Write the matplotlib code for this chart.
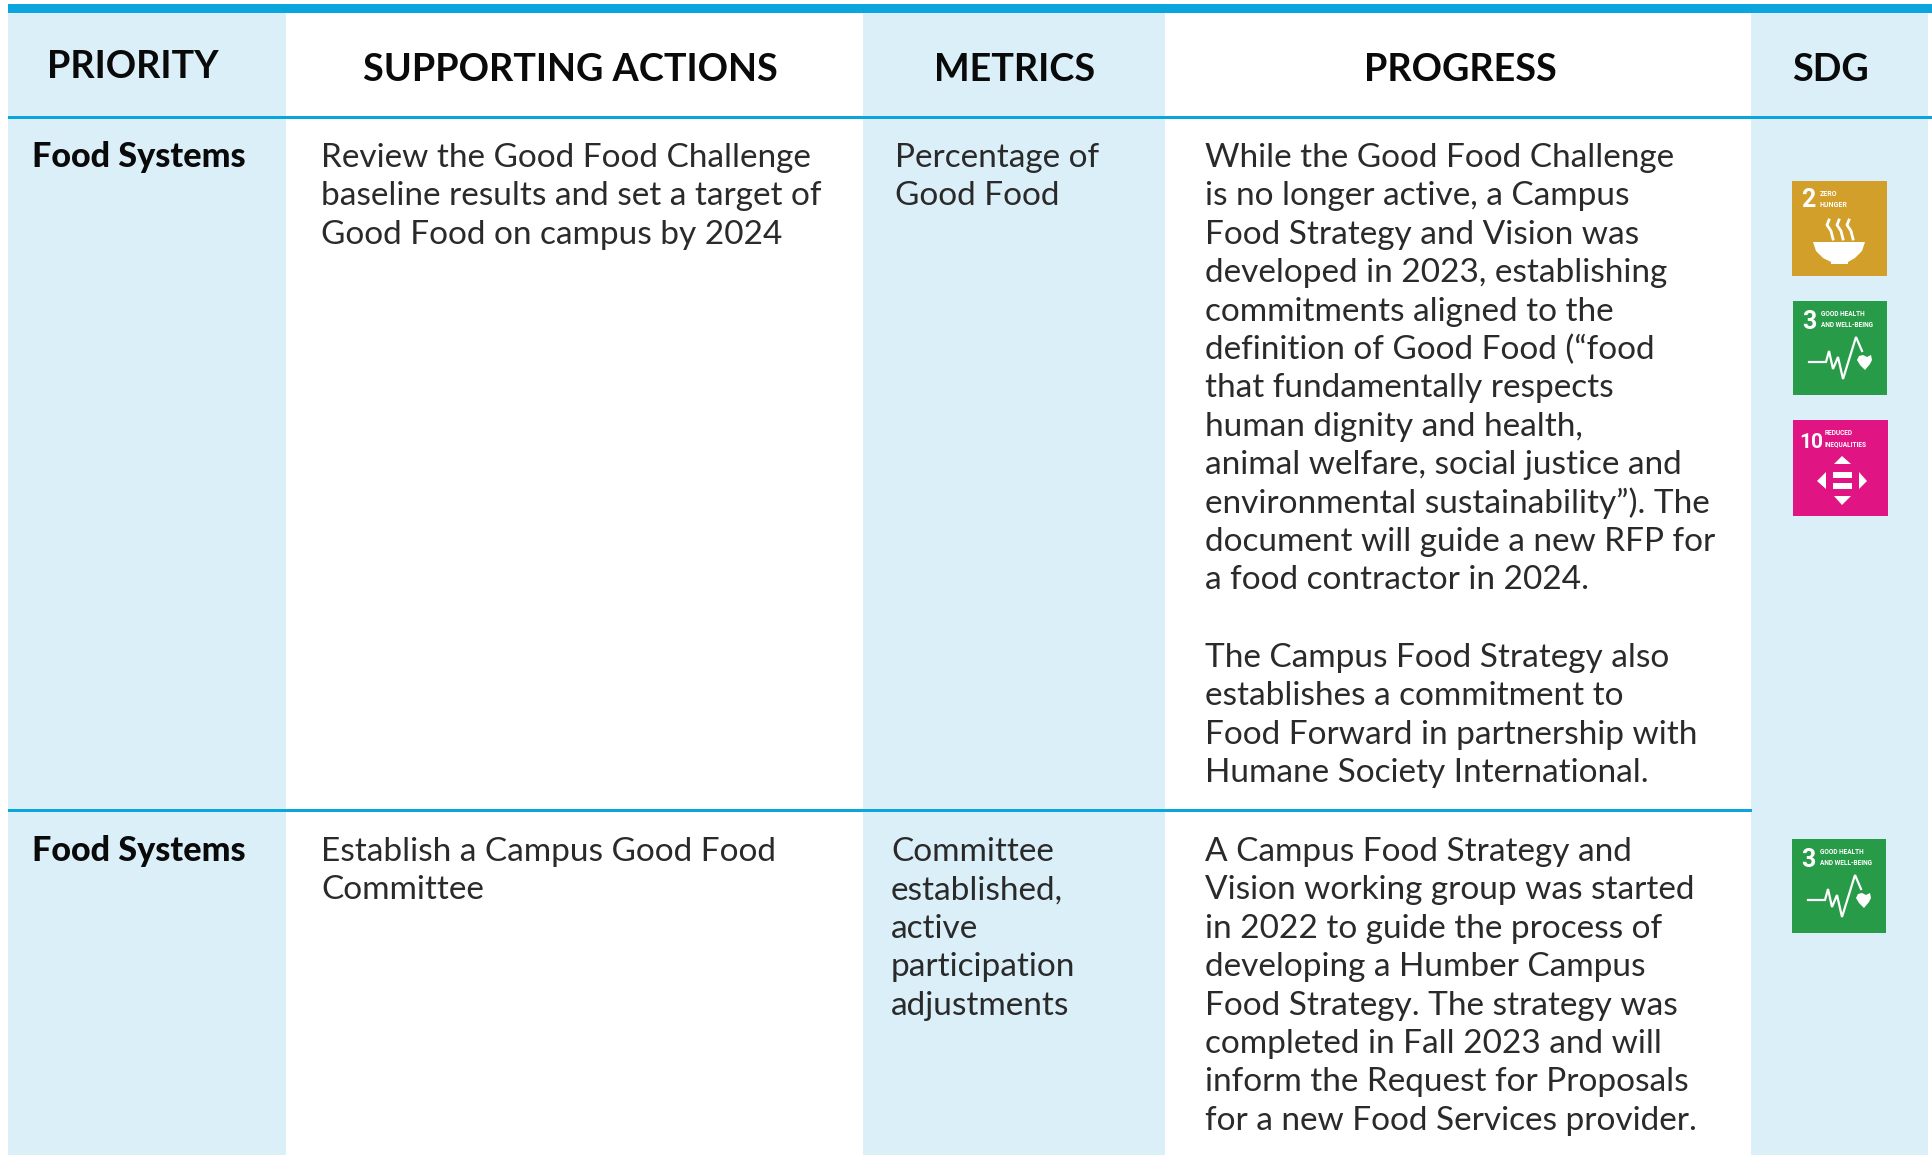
import matplotlib
matplotlib.use('Agg')
import matplotlib.pyplot as plt
from matplotlib.patches import Rectangle, Polygon

# table text
headers = ['PRIORITY', 'SUPPORTING ACTIONS', 'METRICS', 'PROGRESS', 'SDG']
priority = ['Food Systems', 'Food Systems']
actions_1 = ['Review the Good Food Challenge', 'baseline results and set a target of', 'Good Food on campus by 2024']
actions_2 = ['Establish a Campus Good Food', 'Committee']
metrics_1 = ['Percentage of', 'Good Food']
metrics_2 = ['Committee', 'established,', 'active', 'participation', 'adjustments']
progress_1a = ['While the Good Food Challenge', 'is no longer active, a Campus', 'Food Strategy and Vision was',
               'developed in 2023, establishing', 'commitments aligned to the', 'definition of Good Food (“food',
               'that fundamentally respects', 'human dignity and health,', 'animal welfare, social justice and',
               'environmental sustainability”). The', 'document will guide a new RFP for', 'a food contractor in 2024.']
progress_1b = ['The Campus Food Strategy also', 'establishes a commitment to', 'Food Forward in partnership with',
               'Humane Society International.']
progress_2 = ['A Campus Food Strategy and', 'Vision working group was started', 'in 2022 to guide the process of',
              'developing a Humber Campus', 'Food Strategy. The strategy was', 'completed in Fall 2023 and will',
              'inform the Request for Proposals', 'for a new Food Services provider.']

LIGHT = '#dbeff9'
BLUE = '#0ba5de'
FONT = 'Lato'
SIZE = 24
PITCH = 38.4

fig = plt.figure(figsize=(19.33, 11.55), dpi=100)
ax = fig.add_axes([0, 0, 1, 1])
ax.set_xlim(0, 1933)
ax.set_ylim(1155, 0)
ax.axis('off')

# column shading
for x0, x1 in [(8, 286), (863, 1165), (1751, 1928)]:
    ax.add_patch(Rectangle((x0, 4), x1 - x0, 1151, fc=LIGHT, ec='none'))

# rules
ax.add_patch(Rectangle((8, 4), 1925, 9, fc=BLUE, ec='none'))
ax.add_patch(Rectangle((8, 116), 1925, 3, fc=BLUE, ec='none'))
ax.add_patch(Rectangle((8, 808.5), 1744, 3.5, fc=BLUE, ec='none'))


def put_lines(lines, x, y):
    for i, s in enumerate(lines):
        ax.text(x, y + i * PITCH, s, family=FONT, fontsize=SIZE, color='#2a2a2a', va='baseline', ha='left')


# headers
for s, x, y in zip(headers, [47, 363, 934, 1364, 1792], [78, 81, 81, 81, 81]):
    ax.text(x, y, s, family=FONT, fontsize=27.2, fontweight='bold', color='#0a0a0a', va='baseline', ha='left')

# first row
ax.text(32, 167, priority[0], family=FONT, fontsize=24.6, fontweight='black', color='#0a0a0a', va='baseline')
put_lines(actions_1, 321, 167)
put_lines(metrics_1, 895, 167)
put_lines(progress_1a, 1205, 167)
put_lines(progress_1b, 1205, 667)

# second row
ax.text(32, 861, priority[1], family=FONT, fontsize=24.6, fontweight='black', color='#0a0a0a', va='baseline')
put_lines(actions_2, 321, 861)
put_lines(metrics_2, 891, 861)
put_lines(progress_2, 1205, 861)


def tile(x, y, w, h, color, num, label, num_x, num_y, num_size, lab_x, lab_size):
    ax.add_patch(Rectangle((x, y), w, h, fc=color, ec='none'))
    ax.text(x + num_x, y + num_y, num, family='Roboto', fontsize=num_size, fontweight='bold',
            color='white', va='baseline')
    for i, s in enumerate(label):
        ax.text(x + lab_x, y + 15 + i * 11, s, family='Roboto', fontsize=lab_size, fontweight='bold',
                color='white', va='baseline')


def heartbeat(x, y):
    # icon drawn in pixels from the tile corner
    px = [16, 33, 36, 40, 45, 50, 63, 69]
    py = [61, 61, 50, 68, 56, 78, 36, 50]
    ax.plot([x + v for v in px], [y + v for v in py], color='white', lw=1.6, solid_joinstyle='miter')
    heart = [(63, 59), (65, 55), (69, 54), (71, 55), (73, 56), (75, 55), (77, 54), (78, 59), (76, 63), (71, 69), (66, 64)]
    ax.add_patch(Polygon([(x + a + 1, y + b) for a, b in heart], fc='white', ec='none'))


# zero hunger
tile(1792, 181, 95, 95, '#d19f2a', '2', ['ZERO', 'HUNGER'], 9, 26, 18, 28, 5)
bowl = [(21, 61), (73, 61), (70, 70), (63, 77), (56, 81), (56, 83), (39, 83), (39, 81), (31, 77), (24, 70)]
ax.add_patch(Polygon([(1792 + a, 181 + b) for a, b in bowl], fc='white', ec='none'))
for dx in [34, 44, 54]:
    ax.plot([1792 + dx + v for v in [3, 1, 5, 6, 7]], [181 + v for v in [39, 44, 50, 54, 58]], color='white', lw=2)

# good health
tile(1793, 301, 94, 94, '#279b48', '3', ['GOOD HEALTH', 'AND WELL-BEING'], 9, 28, 18, 28, 4.7)
heartbeat(1793, 301)
tile(1792, 839, 94, 94, '#279b48', '3', ['GOOD HEALTH', 'AND WELL-BEING'], 9, 28, 18, 28, 4.7)
heartbeat(1792, 839)

# reduced inequalities
x, y = 1793, 420
tile(x, y, 95, 96, '#e01483', '10', ['REDUCED', 'INEQUALITIES'], 6, 28, 15, 32, 4.7)
for pts in [[(49, 36), (41, 44), (58, 44)], [(49, 85), (41, 76), (58, 76)],
            [(24, 61), (33, 52), (33, 69)], [(74, 61), (66, 52), (66, 69)]]:
    ax.add_patch(Polygon([(x + a, y + b) for a, b in pts], fc='white', ec='none'))
ax.add_patch(Rectangle((x + 40, y + 52), 19, 6, fc='white', ec='none'))
ax.add_patch(Rectangle((x + 40, y + 63), 19, 6, fc='white', ec='none'))

fig.savefig('out.png', dpi=100)
